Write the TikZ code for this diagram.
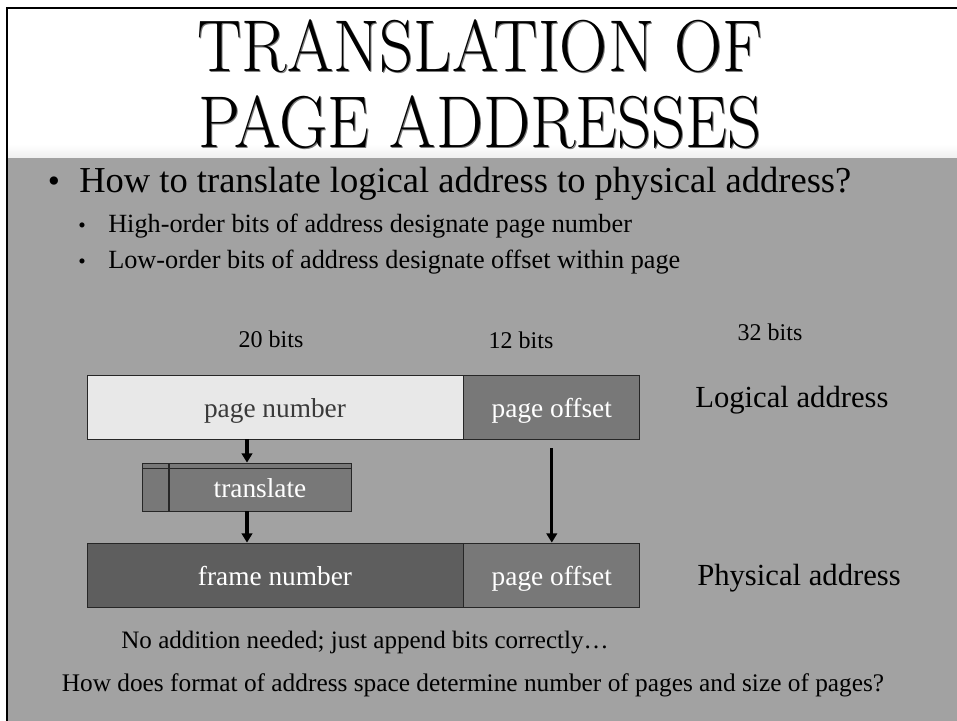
\documentclass[tikz,border=0pt]{standalone}
\usepackage{fontspec}
\newfontfamily\bodyfont{Liberation Serif}
\usetikzlibrary{arrows.meta,positioning}

\definecolor{slidegray}{HTML}{A2A2A2}
\definecolor{pagefill}{HTML}{E8E8E8}
\definecolor{pagetext}{HTML}{3A3A3A}
\definecolor{offsetfill}{HTML}{787878}
\definecolor{framefill}{HTML}{5E5E5E}
\definecolor{shadowgray}{HTML}{7A7A7A}

\newcommand{\bodysize}[1]{\bodyfont\fontsize{#1}{#1}\selectfont}
\newcommand{\slidetitle}[1]{\scalebox{0.91}[1]{\fontsize{55}{60}\selectfont #1}}

\begin{document}
\begin{tikzpicture}[x=0.75pt,y=-0.75pt,
  field/.style={draw=black!85,line width=0.6pt,inner sep=0pt,minimum height=48pt,
    text height=20pt,text depth=4pt,font=\bodysize{20.5}},
  bitlabel/.style={font=\bodysize{18}},
  addrlabel/.style={anchor=base west,inner sep=0pt,font=\bodysize{23}},
  line/.style={anchor=base west,inner sep=0pt},
  flow/.style={-{Triangle[width=8pt,length=7pt]},line width=2.4pt}]
  \useasboundingbox (0,0) rectangle (957,721);
  % slide background
  \fill[white] (0,0) rectangle (957,721);
  \fill[slidegray] (7,157) rectangle (957,721);
  \shade[top color=white,bottom color=white!85!slidegray] (7,144) rectangle (957,157);
  \draw[line width=1.6pt] (7,721) -- (7,8) -- (957,8);

  % title with shadow
  \node[anchor=base,text=shadowgray] at (481,72.5) {\slidetitle{TRANSLATION OF}};
  \node[anchor=base] (title1) at (480,71) {\slidetitle{TRANSLATION OF}};
  \node[anchor=base,text=shadowgray] at (481,148.5) {\slidetitle{PAGE ADDRESSES}};
  \node[anchor=base] (title2) at (480,147) {\slidetitle{PAGE ADDRESSES}};

  % bullets
  \node[anchor=base,font=\bodysize{26}] (dot1) at (54,192) {•};
  \node[line,font=\bodysize{27.4}] (q) at (79,192) {How to translate logical address to physical address?};
  \node[anchor=base,font=\bodysize{16}] (dot2) at (82,232) {•};
  \node[line,font=\bodysize{19.7}] (high) at (108,232) {High-order bits of address designate page number};
  \node[anchor=base,font=\bodysize{16}] (dot3) at (82,268) {•};
  \node[line,font=\bodysize{19.7}] (low) at (108,268) {Low-order bits of address designate offset within page};

  % bit widths
  \node[bitlabel] (b20) at (271,339) {20 bits};
  \node[bitlabel] (b12) at (521,340) {12 bits};
  \node[bitlabel] (b32) at (770,332) {32 bits};

  % logical address
  \node[field,fill=pagefill,text=pagetext,minimum width=282pt] (pnum) at (275,407) {page number};
  \node[field,fill=offsetfill,text=white,minimum width=132pt,right=0pt of pnum] (loff) {page offset};
  \node[addrlabel] (logical) at (695,407) {Logical address};

  % translation step
  \node[field,fill=offsetfill,text=white,minimum width=136.5pt,minimum height=36pt] (trans) at (260,487) {translate};
  \node[field,fill=offsetfill,minimum width=19.5pt,minimum height=36pt,left=0pt of trans] (transtag) {};
  \draw[black!85,line width=0.6pt] ([yshift=-4.5pt]transtag.north west) -- ([yshift=-4.5pt]trans.north east);

  % physical address
  \node[field,fill=framefill,text=white,minimum width=282pt] (fnum) at (275,575) {frame number};
  \node[field,fill=offsetfill,text=white,minimum width=132pt,right=0pt of fnum] (poff) {page offset};
  \node[addrlabel] (physical) at (697,585) {Physical address};

  \draw[flow] ([xshift=-9.75pt]trans.north |- pnum.south) -- ([xshift=-9.75pt]trans.north);
  \draw[flow] ([xshift=-9.75pt]trans.south) -- ([xshift=-9.75pt]trans.south |- fnum.north);
  \draw[flow] ([yshift=-6.75pt]loff.south) -- (poff.north);

  \node[anchor=base,font=\bodysize{18.8}] (note) at (365,648) {No addition needed; just append bits correctly…};
  \node[anchor=base,font=\bodysize{19}] (ask) at (473,691) {How does format of address space determine number of pages and size of pages?};
\end{tikzpicture}
\end{document}
